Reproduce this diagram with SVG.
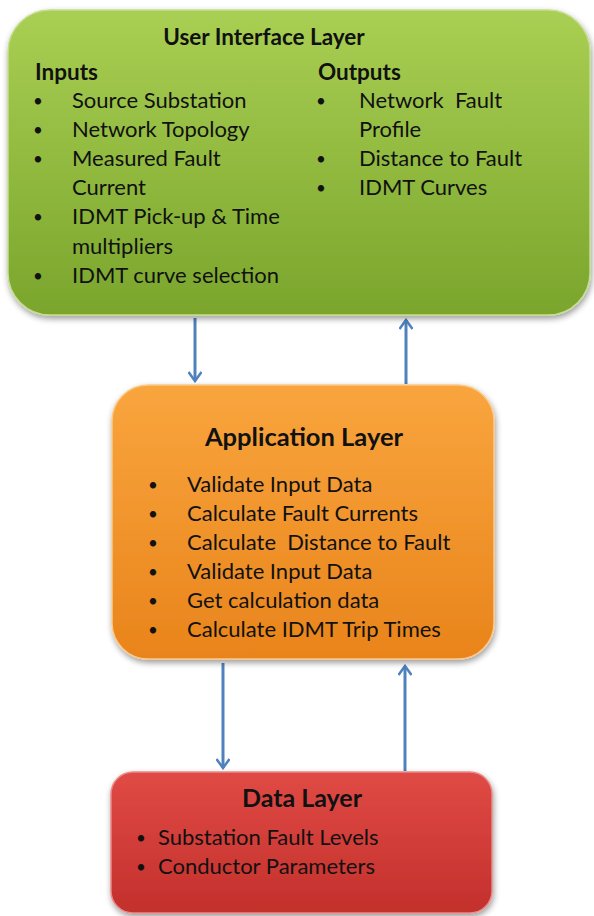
<svg xmlns="http://www.w3.org/2000/svg" width="594" height="916" viewBox="0 0 594 916">
<style>
.t{font-family:Lato,"Open Sans","Liberation Sans",sans-serif;font-size:22px;fill:#111}
.b{font-family:Lato,"Open Sans","Liberation Sans",sans-serif;font-size:17px;fill:#111}
.h{font-family:Lato,"Open Sans","Liberation Sans",sans-serif;font-weight:bold;fill:#111}
.s{font-family:Lato,"Open Sans","Liberation Sans",sans-serif;font-size:22.5px;font-weight:bold;fill:#111}
.c{stroke:#4f81bd;stroke-width:3;fill:none}
</style>
<defs>
<linearGradient id="gG" x1="0" y1="0" x2="0" y2="1"><stop offset="0" stop-color="#a9cf53"/><stop offset="1" stop-color="#7aa52c"/></linearGradient>
<linearGradient id="gO" x1="0" y1="0" x2="0" y2="1"><stop offset="0" stop-color="#f9a53e"/><stop offset="1" stop-color="#e9841b"/></linearGradient>
<linearGradient id="gR" x1="0" y1="0" x2="0" y2="1"><stop offset="0" stop-color="#e04a45"/><stop offset="1" stop-color="#c3302c"/></linearGradient>
<filter id="sh" x="-5%" y="-5%" width="110%" height="115%"><feGaussianBlur in="SourceAlpha" stdDeviation="3"/><feOffset dx="1" dy="3"/><feComponentTransfer><feFuncA type="linear" slope="0.4"/></feComponentTransfer><feMerge><feMergeNode/><feMergeNode in="SourceGraphic"/></feMerge></filter>
<marker id="ah" viewBox="0 0 12 14" refX="10" refY="7" markerWidth="12" markerHeight="14" markerUnits="userSpaceOnUse" orient="auto"><polyline points="1,0.5 10,7 1,13.5" fill="none" stroke="#4f81bd" stroke-width="2.5"/></marker>
</defs>
<rect width="594" height="916" fill="#fff"/>
<g id="connectors">
<line class="c" x1="195" y1="318" x2="195" y2="381" marker-end="url(#ah)"/>
<line class="c" x1="406" y1="384" x2="406" y2="320" marker-end="url(#ah)"/>
<line class="c" x1="223" y1="663" x2="223" y2="768" marker-end="url(#ah)"/>
<line class="c" x1="405" y1="771" x2="405" y2="666" marker-end="url(#ah)"/>
</g>
<g id="ui-layer">
<rect x="8" y="10" width="582" height="305" rx="42" fill="url(#gG)" stroke="#c5dd8e" stroke-width="1.5" filter="url(#sh)"/>
<text class="h" x="264" y="45" text-anchor="middle" font-size="22.5">User Interface Layer</text>
<text class="s" x="35" y="80">Inputs</text>
<text class="s" x="318" y="80">Outputs</text>
<g class="b">
<text x="33" y="107">•</text><text x="33" y="136">•</text><text x="33" y="165">•</text><text x="33" y="223">•</text><text x="33" y="282">•</text>
<text x="316" y="107">•</text><text x="316" y="165">•</text><text x="316" y="194">•</text>
</g>
<g class="t">
<text x="72" y="108">Source Substation</text>
<text x="72" y="137">Network Topology</text>
<text x="72" y="166">Measured Fault</text>
<text x="72" y="195">Current</text>
<text x="72" y="224">IDMT Pick-up &amp; Time</text>
<text x="72" y="254">multipliers</text>
<text x="72" y="283">IDMT curve selection</text>
<text x="359" y="108" xml:space="preserve">Network  Fault</text>
<text x="359" y="137">Profile</text>
<text x="359" y="166">Distance to Fault</text>
<text x="359" y="195">IDMT Curves</text>
</g>
</g>
<g id="application-layer">
<rect x="112" y="385" width="382" height="274" rx="36" fill="url(#gO)" stroke="#fbc98a" stroke-width="1.5" filter="url(#sh)"/>
<text class="h" x="304" y="446" text-anchor="middle" font-size="25.5">Application Layer</text>
<g class="b">
<text x="148" y="491">•</text><text x="148" y="520">•</text><text x="148" y="549">•</text><text x="148" y="578">•</text><text x="148" y="607">•</text><text x="148" y="636">•</text>
</g>
<g class="t">
<text x="187" y="492">Validate Input Data</text>
<text x="187" y="521">Calculate Fault Currents</text>
<text x="187" y="550" xml:space="preserve">Calculate  Distance to Fault</text>
<text x="187" y="579">Validate Input Data</text>
<text x="187" y="608">Get calculation data</text>
<text x="187" y="637">Calculate IDMT Trip Times</text>
</g>
</g>
<g id="data-layer">
<rect x="111" y="772" width="381" height="141" rx="22" fill="url(#gR)" stroke="#e98a86" stroke-width="1.5" filter="url(#sh)"/>
<text class="h" x="302" y="807" text-anchor="middle" font-size="25">Data Layer</text>
<g class="b">
<text x="136" y="844">•</text><text x="136" y="873">•</text>
</g>
<g class="t">
<text x="158" y="845">Substation Fault Levels</text>
<text x="158" y="874">Conductor Parameters</text>
</g>
</g>
</svg>
